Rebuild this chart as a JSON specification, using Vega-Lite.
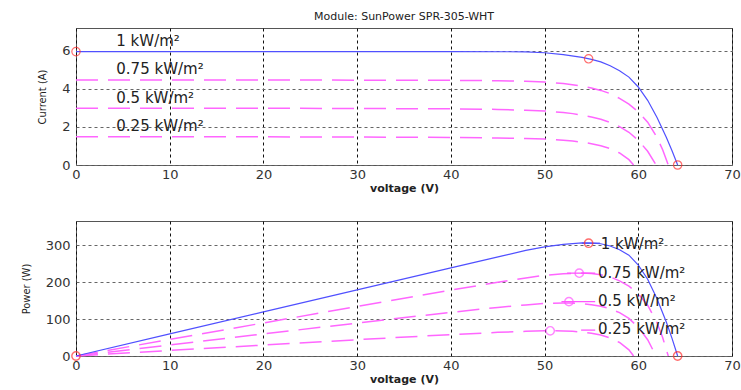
{
  "$schema": "https://vega.github.io/schema/vega-lite/v6.json",
  "padding": {"left": 19, "top": 10, "right": 5, "bottom": 5},
  "background": "white",
  "config": {
    "view": {"stroke": "#555", "strokeWidth": 1},
    "axis": {"labelFont": "DejaVu Sans", "labelFontSize": 13, "labelColor": "#333", "labelFlush": false, "titleFont": "DejaVu Sans", "titleFontWeight": "normal", "titleColor": "#222", "ticks": false, "domain": false, "gridDash": [3, 3], "gridOpacity": 1, "gridWidth": 1},
    "axisX": {"gridColor": "#111", "labelPadding": 3, "titleFontSize": 11, "titleFontWeight": "bold", "titlePadding": 1},
    "axisY": {"gridColor": "#666", "labelPadding": 6, "titleFont": "'Liberation Sans Narrow', 'DejaVu Sans Condensed', 'Liberation Sans', sans-serif", "titleFontSize": 11, "titlePadding": 14}
  },
  "datasets": {
    "curves": [
      {"irr": "1", "V": 0, "I": 5.96, "P": 0},
      {"irr": "1", "V": 10, "I": 5.96, "P": 59.6},
      {"irr": "1", "V": 20, "I": 5.96, "P": 119.2},
      {"irr": "1", "V": 30, "I": 5.96, "P": 178.8},
      {"irr": "1", "V": 40, "I": 5.96, "P": 238.4},
      {"irr": "1", "V": 48, "I": 5.95, "P": 285.6},
      {"irr": "1", "V": 50, "I": 5.9, "P": 295},
      {"irr": "1", "V": 52, "I": 5.8, "P": 301.6},
      {"irr": "1", "V": 54, "I": 5.66, "P": 305.6},
      {"irr": "1", "V": 55, "I": 5.55, "P": 305.3},
      {"irr": "1", "V": 56, "I": 5.42, "P": 303.5},
      {"irr": "1", "V": 57, "I": 5.22, "P": 297.5},
      {"irr": "1", "V": 58, "I": 4.95, "P": 287.1},
      {"irr": "1", "V": 59, "I": 4.62, "P": 272.6},
      {"irr": "1", "V": 60, "I": 4.1, "P": 246},
      {"irr": "1", "V": 61, "I": 3.4, "P": 207.4},
      {"irr": "1", "V": 62, "I": 2.5, "P": 155},
      {"irr": "1", "V": 63, "I": 1.45, "P": 91.4},
      {"irr": "1", "V": 63.6, "I": 0.75, "P": 47.7},
      {"irr": "1", "V": 64.2, "I": 0, "P": 0},
      {"irr": "0.75", "V": 0, "I": 4.47, "P": 0},
      {"irr": "0.75", "V": 10, "I": 4.47, "P": 44.7},
      {"irr": "0.75", "V": 20, "I": 4.47, "P": 89.4},
      {"irr": "0.75", "V": 30, "I": 4.46, "P": 133.8},
      {"irr": "0.75", "V": 40, "I": 4.45, "P": 178},
      {"irr": "0.75", "V": 45, "I": 4.43, "P": 199.4},
      {"irr": "0.75", "V": 48, "I": 4.4, "P": 211.2},
      {"irr": "0.75", "V": 50, "I": 4.36, "P": 218},
      {"irr": "0.75", "V": 52, "I": 4.28, "P": 222.6},
      {"irr": "0.75", "V": 54, "I": 4.15, "P": 224.1},
      {"irr": "0.75", "V": 55, "I": 4.05, "P": 222.8},
      {"irr": "0.75", "V": 56, "I": 3.92, "P": 219.5},
      {"irr": "0.75", "V": 57, "I": 3.75, "P": 213.8},
      {"irr": "0.75", "V": 58, "I": 3.5, "P": 203},
      {"irr": "0.75", "V": 59, "I": 3.2, "P": 188.8},
      {"irr": "0.75", "V": 60, "I": 2.8, "P": 168},
      {"irr": "0.75", "V": 61, "I": 2.25, "P": 137.3},
      {"irr": "0.75", "V": 62, "I": 1.45, "P": 89.9},
      {"irr": "0.75", "V": 62.6, "I": 0.8, "P": 50.1},
      {"irr": "0.75", "V": 63.2, "I": 0, "P": 0},
      {"irr": "0.5", "V": 0, "I": 2.98, "P": 0},
      {"irr": "0.5", "V": 10, "I": 2.98, "P": 29.8},
      {"irr": "0.5", "V": 20, "I": 2.98, "P": 59.6},
      {"irr": "0.5", "V": 30, "I": 2.97, "P": 89.1},
      {"irr": "0.5", "V": 40, "I": 2.95, "P": 118},
      {"irr": "0.5", "V": 45, "I": 2.92, "P": 131.4},
      {"irr": "0.5", "V": 48, "I": 2.88, "P": 138.2},
      {"irr": "0.5", "V": 50, "I": 2.84, "P": 142},
      {"irr": "0.5", "V": 52, "I": 2.76, "P": 143.5},
      {"irr": "0.5", "V": 53, "I": 2.7, "P": 143.1},
      {"irr": "0.5", "V": 54, "I": 2.62, "P": 141.5},
      {"irr": "0.5", "V": 55, "I": 2.52, "P": 138.6},
      {"irr": "0.5", "V": 56, "I": 2.4, "P": 134.4},
      {"irr": "0.5", "V": 57, "I": 2.24, "P": 127.7},
      {"irr": "0.5", "V": 58, "I": 2.02, "P": 117.2},
      {"irr": "0.5", "V": 59, "I": 1.72, "P": 101.5},
      {"irr": "0.5", "V": 60, "I": 1.3, "P": 78},
      {"irr": "0.5", "V": 61, "I": 0.72, "P": 43.9},
      {"irr": "0.5", "V": 61.9, "I": 0, "P": 0},
      {"irr": "0.25", "V": 0, "I": 1.49, "P": 0},
      {"irr": "0.25", "V": 10, "I": 1.49, "P": 14.9},
      {"irr": "0.25", "V": 20, "I": 1.48, "P": 29.6},
      {"irr": "0.25", "V": 30, "I": 1.47, "P": 44.1},
      {"irr": "0.25", "V": 40, "I": 1.45, "P": 58},
      {"irr": "0.25", "V": 45, "I": 1.42, "P": 63.9},
      {"irr": "0.25", "V": 48, "I": 1.39, "P": 66.7},
      {"irr": "0.25", "V": 50, "I": 1.36, "P": 68},
      {"irr": "0.25", "V": 51, "I": 1.34, "P": 68.3},
      {"irr": "0.25", "V": 52, "I": 1.3, "P": 67.6},
      {"irr": "0.25", "V": 53, "I": 1.26, "P": 66.8},
      {"irr": "0.25", "V": 54, "I": 1.2, "P": 64.8},
      {"irr": "0.25", "V": 55, "I": 1.12, "P": 61.6},
      {"irr": "0.25", "V": 56, "I": 1.01, "P": 56.6},
      {"irr": "0.25", "V": 57, "I": 0.86, "P": 49},
      {"irr": "0.25", "V": 58, "I": 0.63, "P": 36.5},
      {"irr": "0.25", "V": 59, "I": 0.28, "P": 16.5},
      {"irr": "0.25", "V": 59.5, "I": 0, "P": 0}
    ],
    "topMarkers": [
      {"V": 0, "I": 5.96},
      {"V": 54.7, "I": 5.58},
      {"V": 64.2, "I": 0}
    ],
    "bottomMarkers": [
      {"V": 0, "P": 0, "kind": "red"},
      {"V": 54.7, "P": 305, "kind": "red"},
      {"V": 64.2, "P": 0, "kind": "red"},
      {"V": 53.7, "P": 224, "kind": "mag"},
      {"V": 52.6, "P": 147, "kind": "mag"},
      {"V": 50.6, "P": 68, "kind": "mag"}
    ],
    "leaders": [
      {"irr": "1", "V": 54.0, "V2": 55.9, "P": 305},
      {"irr": "0.75", "V": 52.4, "V2": 55.4, "P": 224},
      {"irr": "0.5", "V": 51.8, "V2": 55.4, "P": 147},
      {"irr": "0.25", "V": 53.9, "V2": 55.4, "P": 70}
    ],
    "topLabels": [
      {"V": 4.3, "I": 6.5, "text": "1 kW/m²"},
      {"V": 4.3, "I": 5.05, "text": "0.75 kW/m²"},
      {"V": 4.3, "I": 3.5, "text": "0.5 kW/m²"},
      {"V": 4.3, "I": 2.05, "text": "0.25 kW/m²"}
    ],
    "bottomLabels": [
      {"V": 56.0, "P": 303, "text": "1 kW/m²"},
      {"V": 55.7, "P": 224, "text": "0.75 kW/m²"},
      {"V": 55.7, "P": 149, "text": "0.5 kW/m²"},
      {"V": 55.7, "P": 73, "text": "0.25 kW/m²"}
    ]
  },
  "vconcat": [
    {
      "width": 656,
      "height": 137,
      "title": {"text": "Module: SunPower SPR-305-WHT", "font": "DejaVu Sans", "fontSize": 11, "fontWeight": "normal", "color": "#222", "offset": 6},
      "layer": [
        {
          "data": {"name": "curves"},
          "transform": [{"filter": "datum.irr != '1'"}],
          "mark": {"type": "line", "color": "#ff66ff", "strokeWidth": 1.5, "strokeDash": [22, 10]},
          "encoding": {
            "x": {"field": "V", "type": "quantitative", "scale": {"domain": [0, 70], "nice": false}, "axis": {"title": "voltage (V)", "values": [0, 10, 20, 30, 40, 50, 60, 70]}},
            "y": {"field": "I", "type": "quantitative", "scale": {"domain": [0, 7.2], "nice": false}, "axis": {"title": "Current (A)", "values": [0, 2, 4, 6]}},
            "detail": {"field": "irr"}
          }
        },
        {
          "data": {"name": "curves"},
          "transform": [{"filter": "datum.irr == '1'"}],
          "mark": {"type": "line", "color": "#5050ff", "strokeWidth": 1.2},
          "encoding": {
            "x": {"field": "V", "type": "quantitative"},
            "y": {"field": "I", "type": "quantitative"}
          }
        },
        {
          "data": {"name": "topMarkers"},
          "mark": {"type": "point", "shape": "circle", "filled": false, "color": "#ff3030", "size": 70, "strokeWidth": 1.2},
          "encoding": {
            "x": {"field": "V", "type": "quantitative"},
            "y": {"field": "I", "type": "quantitative"}
          }
        },
        {
          "data": {"name": "topLabels"},
          "mark": {"type": "text", "align": "left", "baseline": "middle", "font": "DejaVu Sans", "fontSize": 15, "color": "#222"},
          "encoding": {
            "x": {"field": "V", "type": "quantitative"},
            "y": {"field": "I", "type": "quantitative"},
            "text": {"field": "text"}
          }
        }
      ]
    },
    {
      "width": 656,
      "height": 135,
      "layer": [
        {
          "data": {"name": "curves"},
          "transform": [{"filter": "datum.irr != '1'"}],
          "mark": {"type": "line", "color": "#ff66ff", "strokeWidth": 1.5, "strokeDash": [22, 10]},
          "encoding": {
            "x": {"field": "V", "type": "quantitative", "scale": {"domain": [0, 70], "nice": false}, "axis": {"title": "voltage (V)", "values": [0, 10, 20, 30, 40, 50, 60, 70]}},
            "y": {"field": "P", "type": "quantitative", "scale": {"domain": [0, 365], "nice": false}, "axis": {"title": "Power (W)", "values": [0, 100, 200, 300]}},
            "detail": {"field": "irr"}
          }
        },
        {
          "data": {"name": "curves"},
          "transform": [{"filter": "datum.irr == '1'"}],
          "mark": {"type": "line", "color": "#5050ff", "strokeWidth": 1.2},
          "encoding": {
            "x": {"field": "V", "type": "quantitative"},
            "y": {"field": "P", "type": "quantitative"}
          }
        },
        {
          "data": {"name": "leaders"},
          "mark": {"type": "rule", "strokeWidth": 1.3},
          "encoding": {
            "x": {"field": "V", "type": "quantitative"},
            "x2": {"field": "V2"},
            "y": {"field": "P", "type": "quantitative"},
            "color": {"field": "irr", "type": "nominal", "scale": {"domain": ["1", "0.75", "0.5", "0.25"], "range": ["#5050ff", "#ff55ff", "#ff55ff", "#ff55ff"]}, "legend": null}
          }
        },
        {
          "data": {"name": "bottomMarkers"},
          "mark": {"type": "point", "shape": "circle", "filled": false, "size": 70, "strokeWidth": 1.4},
          "encoding": {
            "x": {"field": "V", "type": "quantitative"},
            "y": {"field": "P", "type": "quantitative"},
            "stroke": {"field": "kind", "type": "nominal", "scale": {"domain": ["red", "mag"], "range": ["#ff3030", "#ff55ff"]}, "legend": null}
          }
        },
        {
          "data": {"name": "bottomLabels"},
          "mark": {"type": "text", "align": "left", "baseline": "middle", "font": "DejaVu Sans", "fontSize": 15, "color": "#222"},
          "encoding": {
            "x": {"field": "V", "type": "quantitative"},
            "y": {"field": "P", "type": "quantitative"},
            "text": {"field": "text"}
          }
        }
      ]
    }
  ],
  "spacing": 56,
  "bounds": "flush"
}
